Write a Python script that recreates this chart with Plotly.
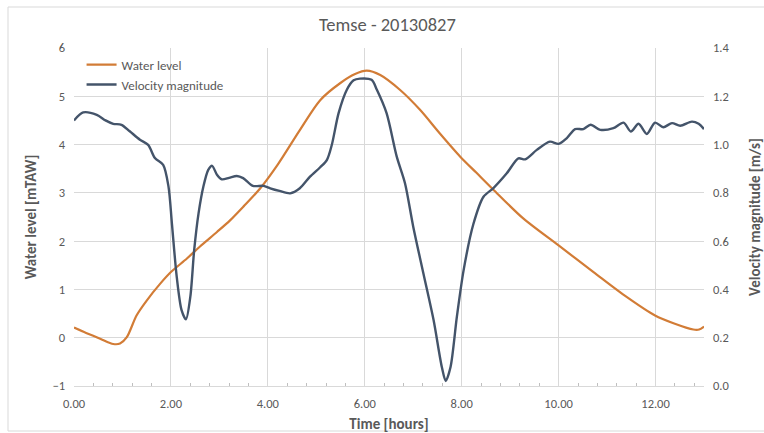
import plotly.graph_objects as go

# Water level [mTAW] over time [hours]
wl_time = [0.0, 0.25, 0.54, 0.81, 0.95, 1.09, 1.29, 1.50, 1.78, 2.00, 2.33, 2.60,
           2.95, 3.22, 3.50, 3.84, 4.20, 4.66, 5.08, 5.49, 5.80, 6.04, 6.32, 6.73,
           7.14, 7.55, 7.97, 8.30, 8.65, 9.27, 10.00, 10.72, 11.41, 11.99, 12.37,
           12.78, 12.90, 13.00]
wl_level = [0.21, 0.10, -0.02, -0.13, -0.12, 0.01, 0.46, 0.77, 1.12, 1.36, 1.64, 1.89,
            2.19, 2.43, 2.72, 3.09, 3.58, 4.30, 4.92, 5.27, 5.46, 5.53, 5.44, 5.13,
            4.72, 4.23, 3.75, 3.42, 3.07, 2.47, 1.91, 1.36, 0.84, 0.46, 0.30,
            0.17, 0.17, 0.23]

# Velocity magnitude [m/s] over time [hours]
vel_time = [0.00, 0.19, 0.47, 0.65, 0.81, 0.98, 1.15, 1.36, 1.53, 1.67, 1.84, 1.95,
            2.02, 2.12, 2.22, 2.31, 2.40, 2.48, 2.57, 2.67, 2.77, 2.85, 2.95, 3.05,
            3.20, 3.36, 3.49, 3.69, 3.91, 4.05, 4.24, 4.46, 4.66, 4.87, 5.08, 5.22,
            5.32, 5.46, 5.63, 5.77, 5.90, 6.14, 6.25, 6.45, 6.66, 6.83, 7.00, 7.21,
            7.42, 7.59, 7.67, 7.77, 7.90, 8.04, 8.24, 8.45, 8.65, 8.93, 9.17, 9.31,
            9.55, 9.82, 10.00, 10.17, 10.34, 10.51, 10.66, 10.86, 11.13, 11.34, 11.49,
            11.65, 11.82, 11.99, 12.16, 12.34, 12.51, 12.75, 12.89, 13.00]
vel_mag = [1.100, 1.133, 1.123, 1.100, 1.086, 1.082, 1.055, 1.020, 0.999, 0.944, 0.916, 0.826,
           0.674, 0.452, 0.314, 0.276, 0.369, 0.563, 0.715, 0.826, 0.895, 0.912, 0.875, 0.856,
           0.862, 0.870, 0.861, 0.829, 0.829, 0.819, 0.808, 0.798, 0.819, 0.867, 0.906, 0.937,
           0.999, 1.130, 1.227, 1.266, 1.273, 1.268, 1.227, 1.130, 0.950, 0.840, 0.660, 0.466,
           0.273, 0.079, 0.021, 0.079, 0.286, 0.480, 0.670, 0.784, 0.819, 0.881, 0.943, 0.939,
           0.978, 1.012, 1.003, 1.027, 1.064, 1.064, 1.082, 1.061, 1.068, 1.091, 1.054,
           1.086, 1.044, 1.091, 1.072, 1.089, 1.078, 1.095, 1.086, 1.064]

FONT = "Carlito, Lato, 'Open Sans', sans-serif"
GREY = "#595959"
GRID = "#D9D9D9"
ORANGE = "#D27C36"
SLATE = "#44546A"

fig = go.Figure()
fig.add_trace(go.Scatter(
    x=wl_time, y=wl_level, name="Water level", mode="lines",
    line=dict(color=ORANGE, width=2.2, shape="spline", smoothing=0.8),
    yaxis="y"))
fig.add_trace(go.Scatter(
    x=vel_time, y=vel_mag, name="Velocity magnitude", mode="lines",
    line=dict(color=SLATE, width=2.4, shape="spline", smoothing=0.8),
    yaxis="y2"))

fig.update_layout(
    width=764, height=433,
    margin=dict(l=74, r=60, t=48, b=47, autoexpand=False),
    paper_bgcolor="white", plot_bgcolor="white",
    font=dict(family=FONT, size=12.5, color=GREY),
    title=dict(text="Temse - 20130827", x=0.507, xanchor="center",
               y=1 - 25 / 433, yanchor="middle",
               font=dict(family=FONT, size=18.5, color=GREY)),
    showlegend=True,
    legend=dict(x=0.012, y=0.995, xanchor="left", yanchor="top",
                bgcolor="rgba(255,255,255,0)", font=dict(size=13, color=GREY),
                itemwidth=30, tracegroupgap=2),
    xaxis=dict(
        range=[0, 13], dtick=2, tick0=0, tickformat=".2f",
        showgrid=True, gridcolor=GRID, gridwidth=1,
        showline=True, linecolor=GRID, linewidth=1,
        zeroline=False, ticks="", ticklabelstandoff=6, automargin=False,
        minor=dict(dtick=0.4, tick0=0, ticks="inside", ticklen=3,
                   tickcolor="#BFBFBF", showgrid=False),
        title=dict(text="<b>Time [hours]</b>", standoff=12,
                   font=dict(size=15, color=GREY)),
        tickfont=dict(size=12.5, color=GREY)),
    yaxis=dict(
        range=[-1, 6], dtick=1, tick0=-1,
        showgrid=True, gridcolor=GRID, gridwidth=1, automargin=False,
        zeroline=False, showline=False, ticks="", ticklabelstandoff=8,
        title=dict(text="<b>Water level [mTAW]</b>", standoff=12,
                   font=dict(size=15, color=GREY)),
        tickfont=dict(size=12.5, color=GREY)),
    yaxis2=dict(
        range=[0, 1.4], dtick=0.2, tick0=0, tickformat=".1f",
        overlaying="y", side="right", automargin=False,
        showgrid=False, zeroline=False, showline=False, ticks="",
        ticklabelstandoff=8,
        title=dict(text="<b>Velocity magnitude [m/s]</b>", standoff=22,
                   font=dict(size=15, color=GREY)),
        tickfont=dict(size=12.5, color=GREY)),
)

# Chart-area frame around the whole figure
fig.add_shape(type="rect", xref="paper", yref="paper",
              x0=(8 - 74) / 630, x1=(770 - 74) / 630,
              y0=-(431 - 386) / 338, y1=1 + (48 - 7) / 338,
              line=dict(color="#D9D9D9", width=1), layer="below")

fig.write_html("out.html")
